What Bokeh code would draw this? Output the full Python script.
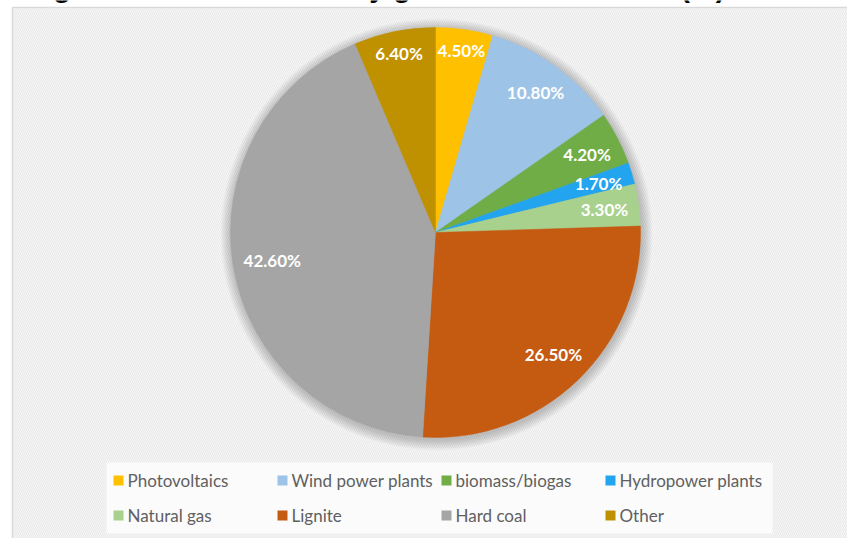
import numpy as np
from bokeh.plotting import figure
from bokeh.models import Range1d, Label, ColumnDataSource
from bokeh.core.properties import value
from bokeh.embed import file_html
from bokeh.resources import INLINE

# --- data -------------------------------------------------------------
sources = ["Photovoltaics", "Wind power plants", "biomass/biogas", "Hydropower plants",
           "Natural gas", "Lignite", "Hard coal", "Other"]
shares = [4.5, 10.8, 4.2, 1.7, 3.3, 26.5, 42.6, 6.4]
colors = ["#FFC000", "#9DC3E6", "#70AD47", "#22A4EE",
          "#A9D18E", "#C55A11", "#A5A5A5", "#BF9000"]
title_text = "Figure 1: Gross electricity generation mix 2017 (%)"

# --- layout (pixel space, y measured downward from the top) ----------
W, H = 847, 538


def up(y_px):
    """Convert a top-down pixel row to the upward data axis."""
    return H - y_px


CX, CY, R = 435, up(232), 205
LABEL_FONT_PX = 17

p = figure(width=W, height=H, x_range=Range1d(0, W), y_range=Range1d(0, H),
           output_backend="svg", toolbar_location=None, min_border=0,
           x_axis_location=None, y_axis_location=None,
           background_fill_color="white", border_fill_color="white",
           outline_line_color=None)
p.grid.visible = False

# chart panel with faint diagonal texture
p.quad(left=12, right=W + 5, top=up(7), bottom=-5,
       fill_color="#f6f6f6", line_color="#d9d9d9", line_width=1.5,
       hatch_pattern="left_diagonal_line", hatch_color="#e4e4e4",
       hatch_alpha=0.7, hatch_scale=4, hatch_weight=1)

# legend backdrop
p.quad(left=106, right=772, top=up(462), bottom=up(533),
       fill_color="white", fill_alpha=0.75, line_color=None)

# soft shadow around the pie
for k in range(11, 0, -1):
    p.circle(x=CX + 1, y=CY - 2, radius=R + k, fill_color="black",
             fill_alpha=0.02, line_color=None)

# --- pie --------------------------------------------------------------
vals = np.array(shares, dtype=float)
frac = vals / vals.sum()
cum_end = np.cumsum(frac)
cum_start = cum_end - frac
start = np.pi / 2 - 2 * np.pi * cum_start
end = np.pi / 2 - 2 * np.pi * cum_end

# label placement: keep the outer corner of each label box inside the rim
em = {"0": .58, "1": .58, "2": .58, "3": .58, "4": .58, "5": .58, "6": .58,
      "7": .58, "8": .58, "9": .58, ".": .25, "%": .80}
labels = [f"{v:.2f}%" for v in shares]
theta = 2 * np.pi * (cum_start + frac / 2)      # clockwise from 12 o'clock
s, c = np.sin(theta), np.cos(theta)
hw = np.array([sum(em[ch] for ch in t) * LABEL_FONT_PX / 2 for t in labels])
hh = 7.0
D = R - 10
b = np.abs(s) * hw + np.abs(c) * hh
rl = -b + np.sqrt(b ** 2 + D ** 2 - hw ** 2 - hh ** 2)
lx = CX + rl * s
ly = CY + rl * c

src = ColumnDataSource(dict(start=start, end=end, color=colors,
                            label=labels, lx=lx, ly=ly, name=sources))
p.wedge(x=CX, y=CY, radius=R, start_angle="start", end_angle="end",
        direction="clock", fill_color="color", line_color="color",
        line_width=0.5, source=src)
p.text(x="lx", y="ly", text="label", source=src,
       text_font=value("Lato"), text_font_style="bold",
       text_font_size=f"{LABEL_FONT_PX}px", text_color="white",
       text_align="center", text_baseline="middle")

# --- legend (4 columns x 2 rows) --------------------------------------
col_x0 = 118
col_w = 164
row_y = [480, 515]
idx = np.arange(len(sources))
sq_x = col_x0 + col_w * (idx % 4)
sq_y = np.array([up(row_y[r]) for r in idx // 4])
leg = ColumnDataSource(dict(x=sq_x, y=sq_y, tx=sq_x + 9, color=colors, name=sources))
p.rect(x="x", y="y", width=10, height=10, fill_color="color", line_color=None, source=leg)
p.text(x="tx", y="y", text="name", source=leg,
       text_font=value("Lato"), text_font_size="17px", text_color="#606060",
       text_align="left", text_baseline="middle")

# title sits above the top edge; only its descenders remain in view
p.add_layout(Label(x=27, y=up(-14), text=title_text, text_font="Liberation Sans",
                   text_font_style="bold", text_font_size="29px",
                   text_color="black", text_baseline="alphabetic"))

open("out.html", "w").write(file_html(p, INLINE))
